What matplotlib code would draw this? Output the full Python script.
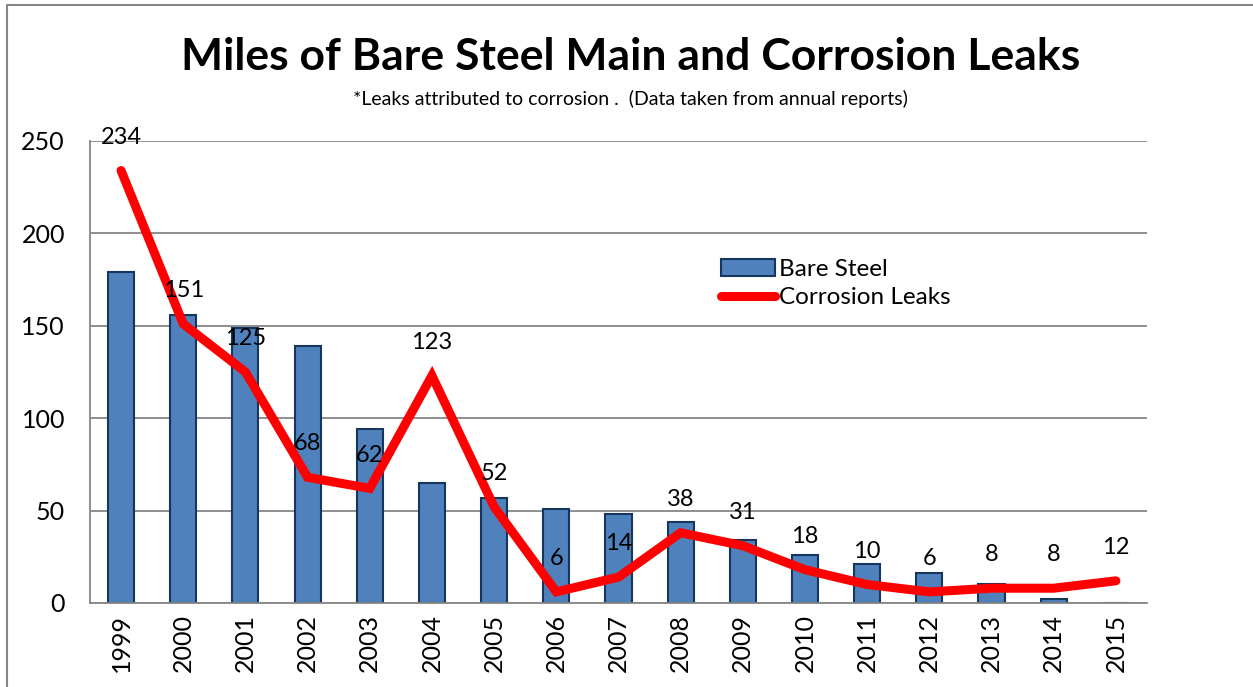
import matplotlib.pyplot as plt
from matplotlib.lines import Line2D
import numpy as np

plt.rcParams['font.family'] = ['Lato', 'DejaVu Sans']

years = ['1999', '2000', '2001', '2002', '2003', '2004', '2005', '2006', '2007',
         '2008', '2009', '2010', '2011', '2012', '2013', '2014', '2015']
bare_steel = [179, 156, 149, 139, 94, 65, 57, 51, 48, 44, 34, 26, 21, 16, 10, 2, 0]
corrosion_leaks = [234, 151, 125, 68, 62, 123, 52, 6, 14, 38, 31, 18, 10, 6, 8, 8, 12]

fig = plt.figure(figsize=(12.53, 6.87), dpi=100)
ax = fig.add_axes([0.0718, 0.1223, 0.8436, 0.6725])

x = np.arange(len(years))
bars = ax.bar(x, bare_steel, width=0.42, color='#4F81BD', edgecolor='#17365D',
              linewidth=1.5, label='Bare Steel', zorder=2)
line, = ax.plot(x, corrosion_leaks, color='#FF0000', linewidth=6.5,
                solid_capstyle='round', solid_joinstyle='miter',
                label='Corrosion Leaks', zorder=3)

for xi, v in zip(x, corrosion_leaks):
    ax.annotate(str(v), (xi, v), xytext=(0, 24), textcoords='offset points',
                ha='center', va='center', fontsize=17, zorder=4)

ax.set_xlim(-0.5, len(years) - 0.5)
ax.set_ylim(0, 250)
ax.set_yticks([0, 50, 100, 150, 200, 250])
ax.set_xticks(x)
ax.set_xticklabels(years, rotation=90, fontsize=18)
ax.tick_params(axis='y', labelsize=18, length=0, pad=18)
ax.tick_params(axis='x', length=0, pad=8)
ax.yaxis.grid(True, color='#868686', linewidth=1.3, zorder=0)
ax.set_axisbelow(True)
for s in ['top', 'right']:
    ax.spines[s].set_visible(False)
for s in ['left', 'bottom']:
    ax.spines[s].set_color('#868686')
    ax.spines[s].set_linewidth(1.3)

fig.text(0.5035, 0.917, 'Miles of Bare Steel Main and Corrosion Leaks',
         ha='center', va='center', fontsize=32, fontweight='bold')
fig.text(0.503, 0.856, '*Leaks attributed to corrosion .  (Data taken from annual reports)',
         ha='center', va='center', fontsize=14)

ax.legend([bars, line], ['Bare Steel', 'Corrosion Leaks'], loc='upper left',
          bbox_to_anchor=(709 / 1253, 1 - 247 / 687),
          bbox_transform=fig.transFigure, frameon=False, fontsize=17.5,
          handlelength=2.2, handletextpad=0.2, labelspacing=0.3, borderpad=0)

# chart area border (left and top edges)
fig.add_artist(Line2D([7 / 1253, 7 / 1253, 1.0], [0.0, 1 - 5 / 687, 1 - 5 / 687],
                      transform=fig.transFigure, color='#868686', linewidth=1.5))

fig.savefig('out.png', dpi=100)
